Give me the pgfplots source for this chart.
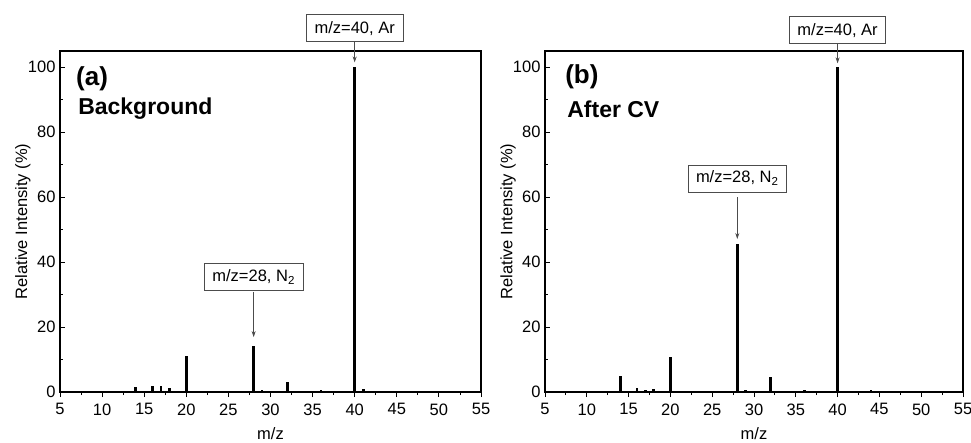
\documentclass[border=0pt]{standalone}
\usepackage{pgfplots}
\pgfplotsset{compat=1.18}
\usepackage{pgfplotstable}
\usetikzlibrary{arrows.meta}
\usepackage{fontspec}
\setmainfont{Liberation Sans}

% Mass spectra: m/z versus relative intensity (%)
\pgfplotstableread{
mz  I
5   0.1
6   0.1
7   0.1
8   0.1
9   0.1
10  0.1
11  0.1
12  0.2
13  0.2
14  1.6
15  0.4
16  1.8
17  2.0
18  1.3
19  0.2
20  11.1
21  0.1
22  0.1
23  0.1
24  0.2
25  0.2
26  0.2
27  0.3
28  14.3
29  0.5
30  0.3
31  0.2
32  3.2
33  0.1
34  0.2
35  0.1
36  0.5
37  0.1
38  0.2
39  0.3
40  100
41  1.0
42  0.2
43  0.2
44  0.4
45  0.1
46  0.1
47  0.1
48  0.1
49  0.1
50  0.1
51  0.1
52  0.1
53  0.1
54  0.1
55  0.1
}\background

\pgfplotstableread{
mz  I
5   0.1
6   0.1
7   0.1
8   0.1
9   0.1
10  0.1
11  0.1
12  0.2
13  0.2
14  5.0
15  0.3
16  1.1
17  0.5
18  1.0
19  0.2
20  10.7
21  0.1
22  0.1
23  0.1
24  0.2
25  0.2
26  0.2
27  0.3
28  45.6
29  0.6
30  0.2
31  0.1
32  4.7
33  0.1
34  0.2
35  0.1
36  0.5
37  0.1
38  0.2
39  0.3
40  100
41  0.3
42  0.1
43  0.1
44  0.5
45  0.1
46  0.1
47  0.1
48  0.1
49  0.1
50  0.1
51  0.1
52  0.1
53  0.1
54  0.1
55  0.1
}\aftercv

\tikzset{
  tag/.style={draw=black!70, line width=0.6pt, fill=white, font=\fontsize{16.5}{19}\selectfont,
              inner xsep=8pt, minimum height=27pt},
  pointer/.style={black!70, line width=0.7pt, -{Stealth[length=6pt,width=4pt]}},
}

\pgfplotsset{
  spectrum/.style={
    scale only axis,
    height=341pt,
    xmin=5, xmax=55, ymin=0, ymax=105,
    xtick={5,10,...,55}, ytick={0,20,...,100},
    minor x tick num=1, minor y tick num=1,
    xtick pos=bottom, ytick pos=left,
    tick align=inside,
    major tick length=5pt, minor tick length=3pt,
    major x tick style={yshift=-5pt},
    minor x tick style={yshift=-3pt},
    every tick/.append style={black, line width=0.9pt},
    axis line style={line width=1.3pt},
    /pgf/number format/assume math mode=true,
    tick label style={font=\fontsize{16.5}{19}\selectfont},
    xticklabel style={yshift=-8pt},
    yticklabel style={xshift=-1pt},
    label style={font=\fontsize{16.5}{19}\selectfont},
    xlabel={m/z},
    ylabel={Relative Intensity (\%)},
    xlabel style={at={(axis description cs:0.5,-0.122)}, anchor=center},
    ylabel style={at={(axis description cs:-0.088,0.5)}, anchor=center},
    clip=false,
  },
  peaks/.style={ycomb, black, line width=2.8pt, mark=none},
}

\begin{document}
\begin{tikzpicture}[x=1pt,y=1pt]
\useasboundingbox (0,0) rectangle (971,442);

\begin{axis}[spectrum, width=421pt, at={(60pt,50pt)}, anchor=south west]
  \addplot[peaks] table[x=mz, y=I] {\background};
  \node[anchor=west, font=\bfseries\fontsize{26}{30}\selectfont] at (axis description cs:0.03,0.918) {(a)};
  \node[anchor=west, font=\bfseries\fontsize{23}{27}\selectfont] at (axis description cs:0.035,0.830) {Background};
  \node[tag] at (axis cs:40,112) {m/z=40, Ar};
  \draw[pointer] (axis cs:40,108) -- (axis cs:40,101.5);
  \node[tag] at (axis cs:28,35.4) {m/z=28, N\textsubscript{2}};
  \draw[pointer] (axis cs:28,30.8) -- (axis cs:28,16.9);
\end{axis}

\begin{axis}[spectrum, width=418pt, at={(545pt,50pt)}, anchor=south west]
  \addplot[peaks] table[x=mz, y=I] {\aftercv};
  \node[anchor=west, font=\bfseries\fontsize{26}{30}\selectfont] at (axis description cs:0.04,0.924) {(b)};
  \node[anchor=west, font=\bfseries\fontsize{23}{27}\selectfont] at (axis description cs:0.045,0.830) {After CV};
  \node[tag] at (axis cs:40,111.4) {m/z=40, Ar};
  \draw[pointer] (axis cs:40,107.4) -- (axis cs:40,101.2);
  \node[tag] at (axis cs:28,65.8) {m/z=28, N\textsubscript{2}};
  \draw[pointer] (axis cs:28,60) -- (axis cs:28,47.1);
\end{axis}
\end{tikzpicture}
\end{document}
